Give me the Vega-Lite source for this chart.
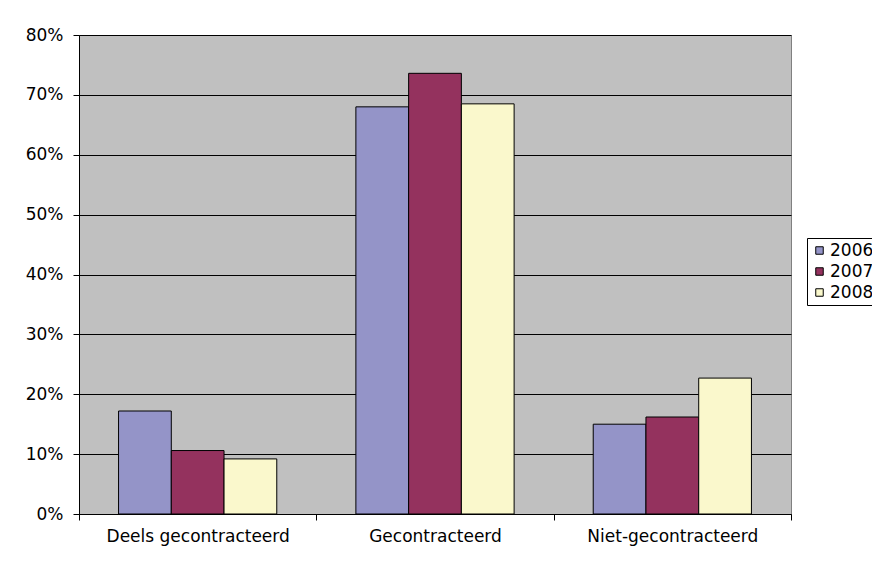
{
  "$schema": "https://vega.github.io/schema/vega-lite/v6.json",
  "width": 712,
  "height": 479,
  "autosize": {"type": "none"},
  "padding": {"left": 79, "top": 35, "right": 81, "bottom": 47},
  "background": "white",
  "data": {
    "values": [
      {"categorie": "Deels gecontracteerd", "jaar": "2006", "aandeel": 0.172},
      {"categorie": "Deels gecontracteerd", "jaar": "2007", "aandeel": 0.106},
      {"categorie": "Deels gecontracteerd", "jaar": "2008", "aandeel": 0.092},
      {"categorie": "Gecontracteerd", "jaar": "2006", "aandeel": 0.680},
      {"categorie": "Gecontracteerd", "jaar": "2007", "aandeel": 0.736},
      {"categorie": "Gecontracteerd", "jaar": "2008", "aandeel": 0.685},
      {"categorie": "Niet-gecontracteerd", "jaar": "2006", "aandeel": 0.150},
      {"categorie": "Niet-gecontracteerd", "jaar": "2007", "aandeel": 0.162},
      {"categorie": "Niet-gecontracteerd", "jaar": "2008", "aandeel": 0.227}
    ]
  },
  "mark": {"type": "bar", "stroke": "black", "strokeWidth": 1},
  "encoding": {
    "x": {
      "field": "categorie",
      "type": "nominal",
      "sort": null,
      "scale": {"paddingInner": 0, "paddingOuter": 0},
      "axis": {
        "title": null,
        "labelAngle": 0,
        "tickBand": "extent",
        "labelLimit": 0,
        "domainColor": "black",
        "tickColor": "black",
        "tickSize": 6,
        "labelPadding": 8,
        "labelFontSize": 17,
        "labelColor": "black",
        "labelFont": "DejaVu Sans"
      }
    },
    "xOffset": {"field": "jaar", "type": "nominal", "scale": {"paddingInner": 0, "paddingOuter": 0.75}},
    "y": {
      "field": "aandeel",
      "type": "quantitative",
      "scale": {"domain": [0, 0.8], "nice": false},
      "axis": {
        "title": null,
        "values": [0, 0.1, 0.2, 0.3, 0.4, 0.5, 0.6, 0.7, 0.8],
        "format": ".0%",
        "grid": true,
        "gridColor": "black",
        "gridOpacity": 1,
        "domainColor": "black",
        "tickColor": "black",
        "tickSize": 6,
        "labelPadding": 10,
        "labelFontSize": 17,
        "labelColor": "black",
        "labelFont": "DejaVu Sans"
      }
    },
    "color": {
      "field": "jaar",
      "type": "nominal",
      "scale": {"domain": ["2006", "2007", "2008"], "range": ["#9494C8", "#94325E", "#FAF8CC"]},
      "legend": {
        "title": null,
        "orient": "none",
        "legendX": 728,
        "legendY": 203,
        "symbolType": "square",
        "symbolSize": 56,
        "symbolStrokeColor": "black",
        "symbolStrokeWidth": 1,
        "labelFontSize": 17,
        "labelFont": "DejaVu Sans",
        "labelColor": "black",
        "labelOffset": 2,
        "rowPadding": 3,
        "padding": 4,
        "strokeColor": "black",
        "fillColor": "white"
      }
    }
  },
  "config": {
    "view": {"fill": "#C0C0C0", "stroke": "#808080", "strokeWidth": 1},
    "axis": {"gridWidth": 1}
  }
}
